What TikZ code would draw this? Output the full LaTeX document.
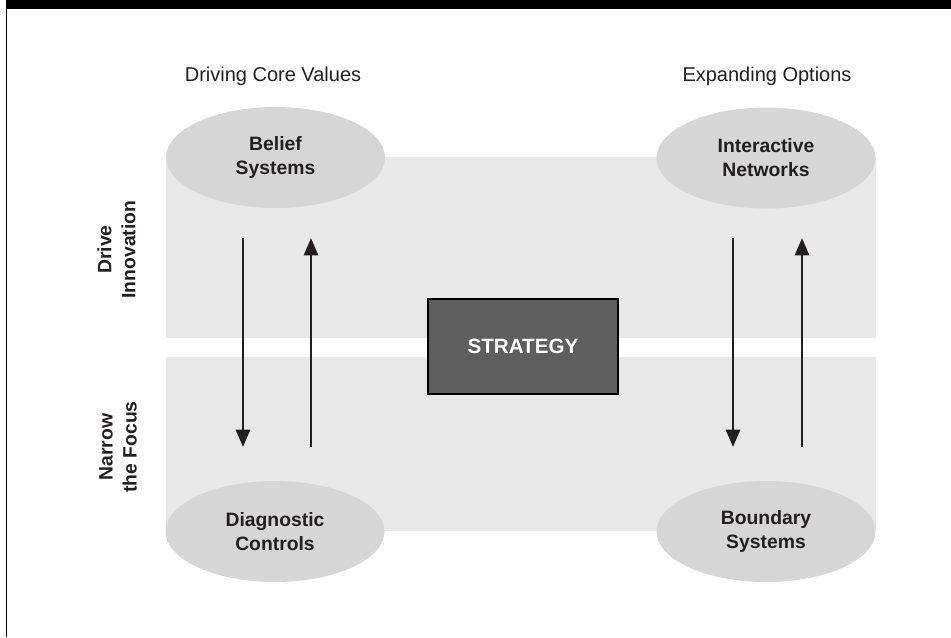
\documentclass[tikz,border=0pt]{standalone}
\usepackage{fontspec}
\setmainfont{Liberation Sans}
\usetikzlibrary{shapes.geometric,arrows.meta}
\definecolor{bandc}{HTML}{E8E8E8}
\definecolor{ellc}{HTML}{D6D6D6}
\definecolor{boxc}{HTML}{5E5E5E}
\definecolor{ink}{HTML}{231F20}
\begin{document}
\begin{tikzpicture}[x=0.75pt,y=-0.75pt,
  lens/.style={ellipse, fill=ellc, inner sep=0pt, minimum width=164.25pt,
    minimum height=75.75pt, font=\bfseries\fontsize{14.5}{18}\selectfont,
    text=ink, align=center},
  hdr/.style={font=\fontsize{15}{18}\selectfont, text=ink, anchor=base},
  side/.style={rotate=90, font=\bfseries\fontsize{14.5}{18}\selectfont,
    text=ink, align=center},
  arr/.style={draw=ink, line width=2pt, -{Triangle[width=10.5pt,length=13pt]}},
  stratbox/.style={rectangle, draw=black, line width=0.9pt, fill=boxc,
    minimum width=142.5pt, minimum height=71.25pt, text=white,
    font=\bfseries\fontsize{15.5}{18}\selectfont},
]
\useasboundingbox (0,0) rectangle (951,637);
% frame
\fill[black] (6,0) rectangle (951,9);
\draw[black, line width=1.1pt] (6.5,0) -- (6.5,637);
% bands
\fill[bandc] (166,157) rectangle (876,338);
\fill[bandc] (166,357) rectangle (876,531);
% headers
\node[hdr] (dcv) at (273,81.5) {Driving Core Values};
\node[hdr] (eo) at (767,81.5) {Expanding Options};
% side labels
\node[side] (drive) at (116.5,249.5) {Drive\\Innovation};
\node[side] (narrow) at (118,447) {Narrow\\the Focus};
% ellipses
\node[lens] (belief) at (275.5,157.5) {Belief\\Systems};
\node[lens] (inter) at (766,158) {Interactive\\Networks};
\node[lens] (diag) at (275,531.5) {Diagnostic\\Controls};
\node[lens] (bound) at (766,531.5) {Boundary\\Systems};
% strategy
\node[stratbox] (strat) at (523,346.5) {STRATEGY};
% arrow end points
\coordinate (l1s) at (243,238);
\coordinate (l1e) at (243,447);
\coordinate (l2s) at (311,447);
\coordinate (l2e) at (311,238);
\coordinate (r1s) at (733,238);
\coordinate (r1e) at (733,447);
\coordinate (r2s) at (802,447);
\coordinate (r2e) at (802,238);
\draw[arr] (l1s) -- (l1e);
\draw[arr] (l2s) -- (l2e);
\draw[arr] (r1s) -- (r1e);
\draw[arr] (r2s) -- (r2e);
\end{tikzpicture}
\end{document}
